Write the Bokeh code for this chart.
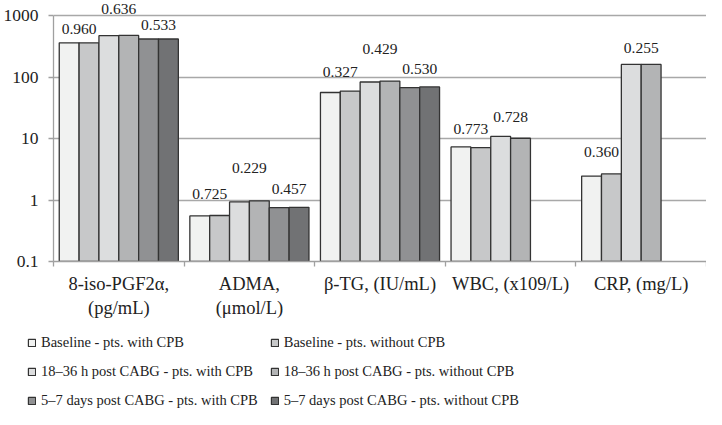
from bokeh.plotting import figure
from bokeh.layouts import column
from bokeh.models import (ColumnDataSource, Range1d, FixedTicker, Legend, LegendItem)
from bokeh.core.properties import value
from bokeh.embed import file_html
from bokeh.resources import INLINE

# ---------------- data ----------------
categories = ["8-iso-PGF2α,\n(pg/mL)", "ADMA,\n(μmol/L)", "β-TG, (IU/mL)",
              "WBC, (x109/L)", "CRP, (mg/L)"]
series_names = ["Baseline - pts. with CPB", "Baseline - pts. without CPB",
                "18–36 h post CABG - pts. with CPB", "18–36 h post CABG - pts. without CPB",
                "5–7 days post CABG - pts. with CPB", "5–7 days post CABG - pts. without CPB"]
baseline_with = [360, 0.55, 56, 7.3, 2.45]
baseline_without = [360, 0.56, 59, 7.1, 2.65]
h18_36_with = [470, 0.93, 83, 10.8, 160]
h18_36_without = [475, 0.97, 86, 10.1, 160]
d5_7_with = [415, 0.75, 67, None, None]
d5_7_without = [415, 0.76, 69, None, None]
series_values = [baseline_with, baseline_without, h18_36_with,
                 h18_36_without, d5_7_with, d5_7_without]
# p-values for each pair (baseline, 18-36 h, 5-7 days) per category
p_values = [["0.960", "0.636", "0.533"],
            ["0.725", "0.229", "0.457"],
            ["0.327", "0.429", "0.530"],
            ["0.773", "0.728", None],
            ["0.360", "0.255", None]]
y_ticks = [0.1, 1, 10, 100, 1000]
y_tick_labels = ["0.1", "1", "10", "100", "1000"]

# ---------------- styles ----------------
colors = ["#f1f2f1", "#c7c8c9", "#dcddde", "#b3b4b5", "#909193", "#717274"]
label_offsets = [[14, 26, 14], [21, 33, 18], [19, 32, 18], [18, 19, 0], [22, 16, 0]]
FONT = "Liberation Serif"
TXT = "#222222"
AX = "#a0a0a0"
bw = 0.152
top_pad_decades = 15 / 61.5   # headroom above the 1000 gridline for labels

p = figure(width=706, height=320, output_backend="svg", toolbar_location=None,
           y_axis_type="log", x_range=Range1d(0, 5),
           y_range=Range1d(0.1, 1000 * 10 ** top_pad_decades),
           min_border_top=0, min_border_left=51, min_border_right=0, min_border_bottom=59)
p.outline_line_color = None
p.background_fill_color = "white"
p.border_fill_color = "white"

renderers = []
for j, vals in enumerate(series_values):
    xs, tops = [], []
    for i, v in enumerate(vals):
        if v is None:
            continue
        xs.append(i + 0.5 + (j - 2.5) * bw)
        tops.append(v)
    src = ColumnDataSource(dict(x=xs, top=tops))
    r = p.vbar(x="x", top="top", bottom=0.1, width=bw, source=src,
               fill_color=colors[j], line_color="#333333", line_width=1.3)
    renderers.append(r)

# p-value labels
lx, ly, lt, loff = [], [], [], []
for i, row in enumerate(p_values):
    for k, txt in enumerate(row):
        if txt is None:
            continue
        a = series_values[2 * k][i]
        b = series_values[2 * k + 1][i]
        lx.append(i + 0.5 + (2 * k - 2) * bw)
        ly.append(max(a, b))
        lt.append(txt)
        loff.append(-label_offsets[i][k])
lsrc = ColumnDataSource(dict(x=lx, y=ly, t=lt, off=loff))
p.text(x="x", y="y", text="t", y_offset="off", source=lsrc,
       text_font=value(FONT), text_font_size="15.5px", text_color=TXT,
       text_align="center", text_baseline="middle")

# grid
p.xgrid.visible = False
p.ygrid.ticker = FixedTicker(ticks=y_ticks)
p.ygrid.grid_line_color = "#a8a8a8"
p.ygrid.grid_line_width = 1.3

# y axis
ya = p.yaxis[0]
ya.ticker = FixedTicker(ticks=y_ticks, minor_ticks=[])
ya.bounds = (y_ticks[0], y_ticks[-1])
ya.major_label_overrides = {t: l for t, l in zip(y_ticks, y_tick_labels)}
ya.major_label_text_font = FONT
ya.major_label_text_font_size = "17.5px"
ya.major_label_text_color = TXT
ya.major_tick_out = 5
ya.major_tick_in = 0
ya.minor_tick_out = 0
ya.minor_tick_in = 0
ya.major_label_standoff = 10
ya.axis_line_color = AX
ya.axis_line_width = 1.3
ya.major_tick_line_color = AX
ya.major_tick_line_width = 1.3

# x axis
xa = p.xaxis[0]
xa.ticker = FixedTicker(ticks=[i + 0.5 for i in range(len(categories))],
                        minor_ticks=list(range(len(categories) + 1)))
xa.major_label_overrides = {i + 0.5: c for i, c in enumerate(categories)}
xa.major_label_text_font = FONT
xa.major_label_text_font_size = "18.5px"
xa.major_label_text_color = TXT
xa.major_tick_out = 0
xa.major_tick_in = 0
xa.minor_tick_out = 5
xa.minor_tick_in = 0
xa.minor_tick_line_color = AX
xa.minor_tick_line_width = 1.3
xa.major_label_standoff = 7
xa.axis_line_color = AX
xa.axis_line_width = 1.3

# ---------------- legend (separate strip below) ----------------
pl = figure(width=706, height=89, output_backend="svg", toolbar_location=None,
            x_range=Range1d(0, 1), y_range=Range1d(0, 1),
            x_axis_location=None, y_axis_location=None,
            min_border_top=0, min_border_left=26, min_border_right=0, min_border_bottom=0,
            styles={"margin-left": "-26px"})
pl.outline_line_color = None
pl.xgrid.visible = False
pl.ygrid.visible = False
leg_renderers = []
for j in range(len(series_names)):
    # off-range placeholder so the legend can draw its swatch
    rr = pl.vbar(x=[-1], top=[-1], bottom=-2, width=0.1,
                 fill_color=colors[j], line_color="#333333", line_width=1.2)
    leg_renderers.append(rr)
items = [LegendItem(label=n, renderers=[r]) for n, r in zip(series_names, leg_renderers)]
legend = Legend(items=items, ncols=2, orientation="horizontal", location="bottom_left",
                label_text_font=FONT, label_text_font_size="14.5px",
                label_text_color=TXT, glyph_width=9, glyph_height=9,
                label_standoff=5, label_width=214, label_height=17, spacing=12,
                padding=0, margin=0, border_line_color=None,
                background_fill_alpha=0)
pl.add_layout(legend, "center")

layout = column(p, pl, spacing=0)
open("out.html", "w").write(file_html(layout, INLINE))
